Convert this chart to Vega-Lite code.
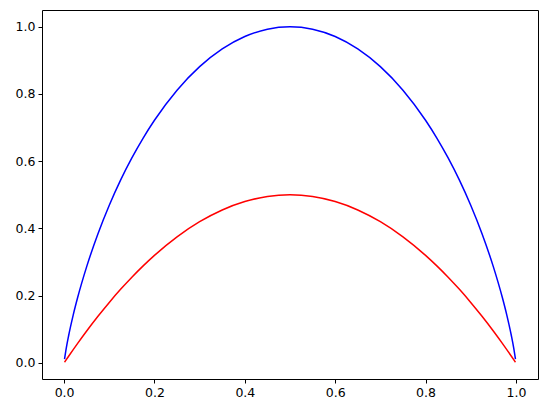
{
  "$schema": "https://vega.github.io/schema/vega-lite/v6.json",
  "autosize": "none",
  "width": 496,
  "height": 369,
  "padding": {"left": 42, "top": 10, "right": 9, "bottom": 34},
  "background": "white",
  "config": {
    "view": {"stroke": "black", "strokeWidth": 1},
    "font": "DejaVu Sans",
    "axis": {
      "grid": false,
      "domain": false,
      "tickColor": "black",
      "tickSize": 4,
      "tickWidth": 1,
      "labelFont": "DejaVu Sans",
      "labelFontSize": 12.5,
      "labelColor": "black",
      "labelPadding": 3,
      "title": null
    }
  },
  "data": {
    "values": [
      {"p": 0.001, "v": 0.0114, "s": "entropy"},
      {"p": 0.005, "v": 0.0454, "s": "entropy"},
      {"p": 0.01, "v": 0.0808, "s": "entropy"},
      {"p": 0.02, "v": 0.1414, "s": "entropy"},
      {"p": 0.03, "v": 0.1944, "s": "entropy"},
      {"p": 0.05, "v": 0.2864, "s": "entropy"},
      {"p": 0.075, "v": 0.3843, "s": "entropy"},
      {"p": 0.1, "v": 0.4690, "s": "entropy"},
      {"p": 0.125, "v": 0.5436, "s": "entropy"},
      {"p": 0.15, "v": 0.6098, "s": "entropy"},
      {"p": 0.175, "v": 0.6690, "s": "entropy"},
      {"p": 0.2, "v": 0.7219, "s": "entropy"},
      {"p": 0.25, "v": 0.8113, "s": "entropy"},
      {"p": 0.3, "v": 0.8813, "s": "entropy"},
      {"p": 0.35, "v": 0.9341, "s": "entropy"},
      {"p": 0.4, "v": 0.9710, "s": "entropy"},
      {"p": 0.45, "v": 0.9928, "s": "entropy"},
      {"p": 0.5, "v": 1.0, "s": "entropy"},
      {"p": 0.55, "v": 0.9928, "s": "entropy"},
      {"p": 0.6, "v": 0.9710, "s": "entropy"},
      {"p": 0.65, "v": 0.9341, "s": "entropy"},
      {"p": 0.7, "v": 0.8813, "s": "entropy"},
      {"p": 0.75, "v": 0.8113, "s": "entropy"},
      {"p": 0.8, "v": 0.7219, "s": "entropy"},
      {"p": 0.825, "v": 0.6690, "s": "entropy"},
      {"p": 0.85, "v": 0.6098, "s": "entropy"},
      {"p": 0.875, "v": 0.5436, "s": "entropy"},
      {"p": 0.9, "v": 0.4690, "s": "entropy"},
      {"p": 0.925, "v": 0.3843, "s": "entropy"},
      {"p": 0.95, "v": 0.2864, "s": "entropy"},
      {"p": 0.97, "v": 0.1944, "s": "entropy"},
      {"p": 0.98, "v": 0.1414, "s": "entropy"},
      {"p": 0.99, "v": 0.0808, "s": "entropy"},
      {"p": 0.995, "v": 0.0454, "s": "entropy"},
      {"p": 0.999, "v": 0.0114, "s": "entropy"},
      {"p": 0.001, "v": 0.0020, "s": "gini"},
      {"p": 0.01, "v": 0.0198, "s": "gini"},
      {"p": 0.03, "v": 0.0582, "s": "gini"},
      {"p": 0.05, "v": 0.0950, "s": "gini"},
      {"p": 0.075, "v": 0.13875, "s": "gini"},
      {"p": 0.1, "v": 0.18, "s": "gini"},
      {"p": 0.125, "v": 0.21875, "s": "gini"},
      {"p": 0.15, "v": 0.255, "s": "gini"},
      {"p": 0.175, "v": 0.28875, "s": "gini"},
      {"p": 0.2, "v": 0.32, "s": "gini"},
      {"p": 0.25, "v": 0.375, "s": "gini"},
      {"p": 0.3, "v": 0.42, "s": "gini"},
      {"p": 0.35, "v": 0.455, "s": "gini"},
      {"p": 0.4, "v": 0.48, "s": "gini"},
      {"p": 0.45, "v": 0.495, "s": "gini"},
      {"p": 0.5, "v": 0.5, "s": "gini"},
      {"p": 0.55, "v": 0.495, "s": "gini"},
      {"p": 0.6, "v": 0.48, "s": "gini"},
      {"p": 0.65, "v": 0.455, "s": "gini"},
      {"p": 0.7, "v": 0.42, "s": "gini"},
      {"p": 0.75, "v": 0.375, "s": "gini"},
      {"p": 0.8, "v": 0.32, "s": "gini"},
      {"p": 0.825, "v": 0.28875, "s": "gini"},
      {"p": 0.85, "v": 0.255, "s": "gini"},
      {"p": 0.875, "v": 0.21875, "s": "gini"},
      {"p": 0.9, "v": 0.18, "s": "gini"},
      {"p": 0.925, "v": 0.13875, "s": "gini"},
      {"p": 0.95, "v": 0.0950, "s": "gini"},
      {"p": 0.97, "v": 0.0582, "s": "gini"},
      {"p": 0.99, "v": 0.0198, "s": "gini"},
      {"p": 0.999, "v": 0.0020, "s": "gini"}
    ]
  },
  "mark": {"type": "line", "interpolate": "monotone", "strokeWidth": 1.5, "clip": true},
  "encoding": {
    "x": {
      "field": "p", "type": "quantitative",
      "scale": {"domain": [-0.0489, 1.0489], "nice": false, "zero": false},
      "axis": {"values": [0, 0.2, 0.4, 0.6, 0.8, 1.0], "format": ".1f"}
    },
    "y": {
      "field": "v", "type": "quantitative",
      "scale": {"domain": [-0.0479, 1.0499], "nice": false, "zero": false},
      "axis": {"values": [0, 0.2, 0.4, 0.6, 0.8, 1.0], "format": ".1f"}
    },
    "color": {
      "field": "s", "type": "nominal",
      "scale": {"domain": ["entropy", "gini"], "range": ["blue", "red"]},
      "legend": null
    },
    "order": {"field": "p", "type": "quantitative"}
  }
}
